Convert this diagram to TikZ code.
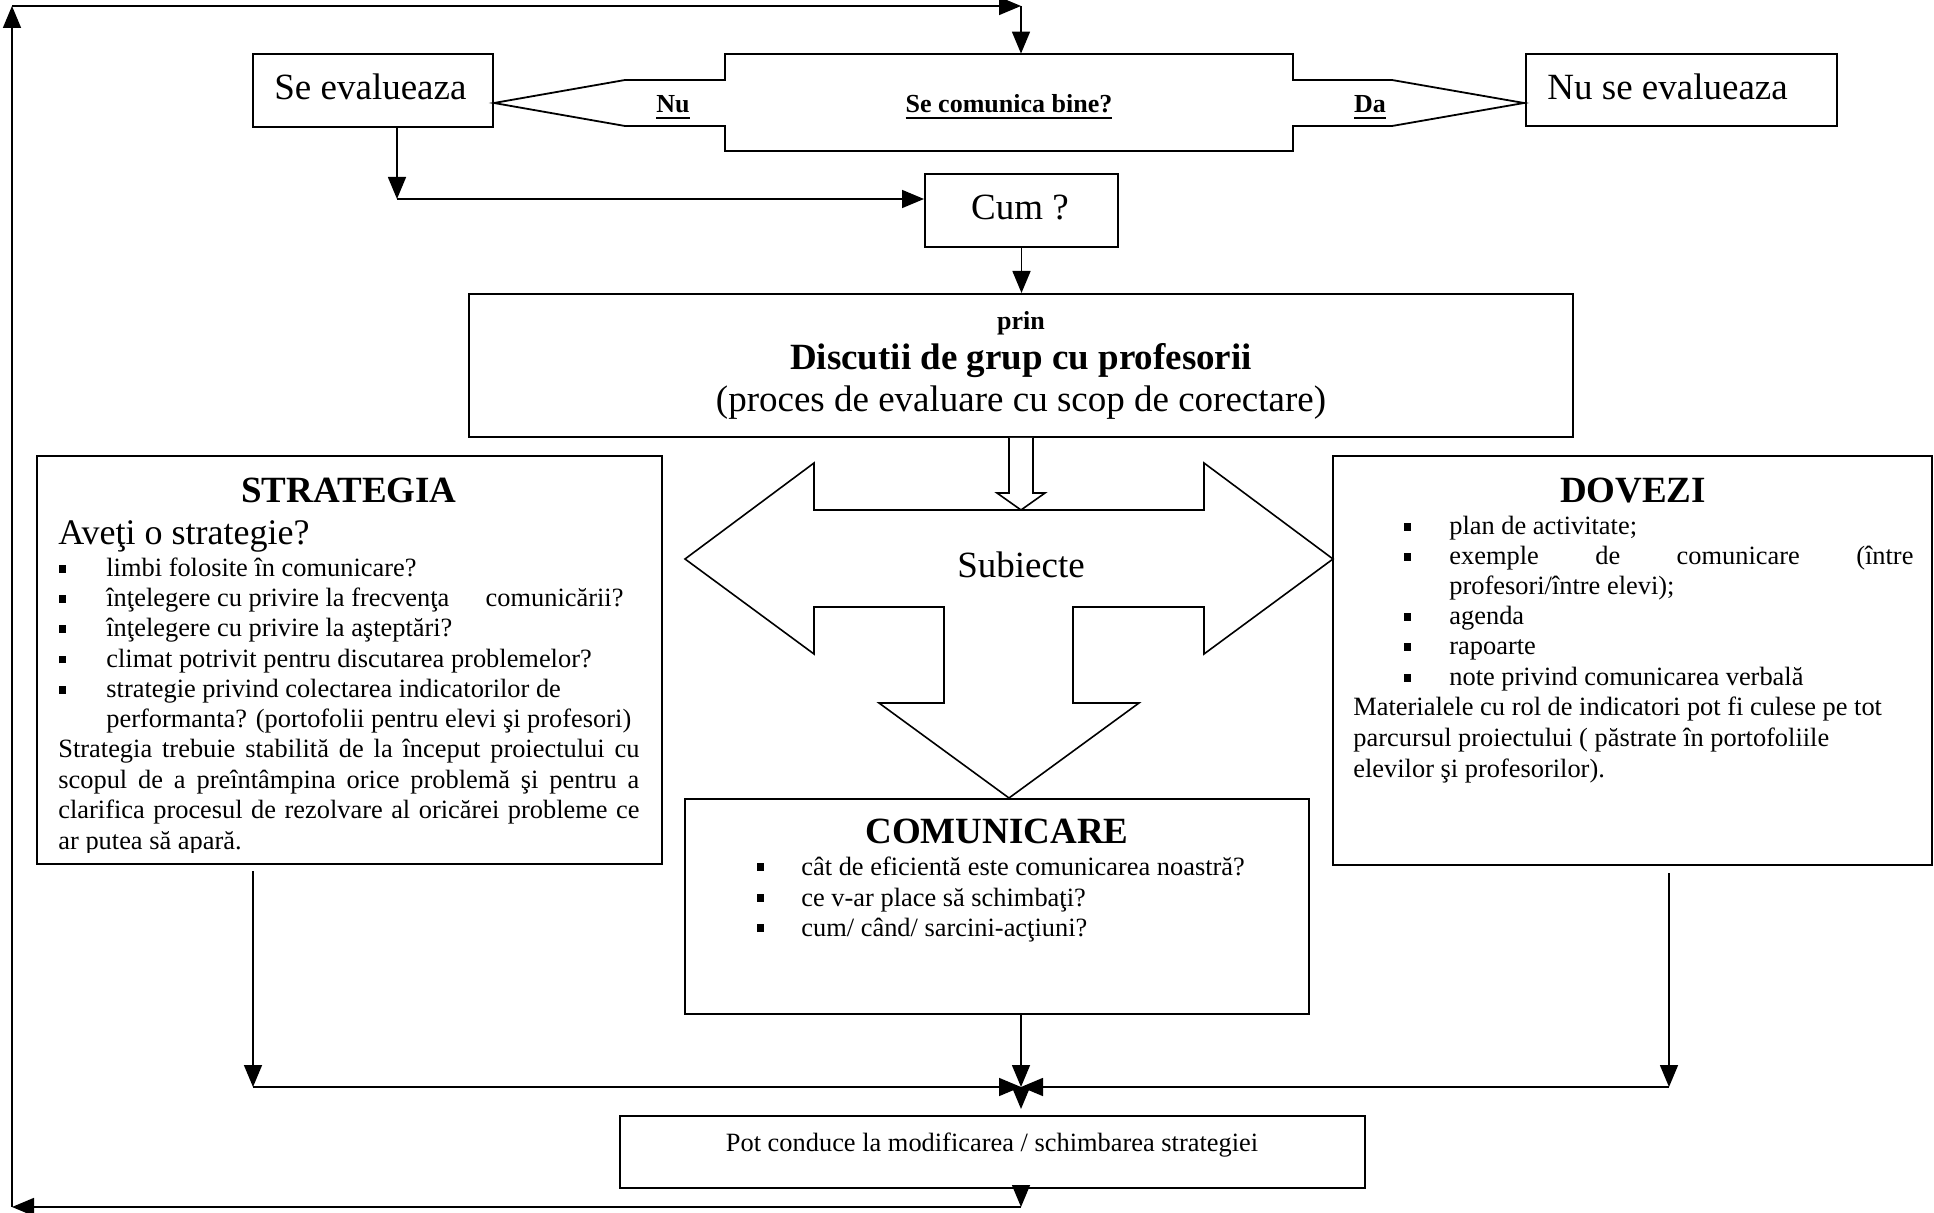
\documentclass[tikz,border=0pt]{standalone}
\usepackage{fontspec}
\setmainfont{Liberation Serif}
\usetikzlibrary{arrows.meta}
\newcommand\fbig{\fontsize{18.5pt}{22pt}\selectfont}
\newcommand\fmid{\fontsize{13.2pt}{15pt}\selectfont}
\newcommand\fav{\fontsize{18pt}{21pt}\selectfont}
\newcommand\flab{\fontsize{13pt}{15pt}\selectfont\bfseries}
\newcommand\sqbul{\rule[2pt]{3.5pt}{3.8pt}}
\newcommand\ulbox[1]{\setbox0\hbox{#1}\rlap{\rule[-3.2pt]{\wd0}{1pt}}\box0}
\newcommand\bitem[5]{%
  \node[txt,anchor=base west] (#1) at (#3,#4) {#5};
  \node[txt,anchor=base west] (#1b) at (#2,#4) {\sqbul};}
\begin{document}
\begin{tikzpicture}[x=0.5pt,y=-0.5pt,
  box/.style={draw, line width=1pt, inner sep=0pt, rectangle},
  txt/.style={inner sep=0pt, font=\fmid},
  arr/.style={line width=0.8pt, -{Triangle[length=11pt,width=9pt]}},
  shp/.style={line width=0.9pt, fill=white}]
\useasboundingbox (0,0) rectangle (1934,1213);

% boxes
\node[box, minimum width=120pt, minimum height=36.5pt] (sev) at (373,90.5) {};
\node[box, minimum width=155.5pt, minimum height=36pt] (nsev) at (1681.5,90) {};
\node[box, minimum width=96.5pt, minimum height=36.5pt] (cum) at (1021.5,210.5) {};
\node[box, minimum width=552pt, minimum height=71.5pt] (disc) at (1021,365.5) {};
\node[box, minimum width=312.5pt, minimum height=204pt] (strat) at (349.5,660) {};
\node[box, minimum width=299.5pt, minimum height=204.5pt] (dov) at (1632.5,660.5) {};
\node[box, minimum width=312pt, minimum height=107.5pt] (com) at (997,906.5) {};
\node[box, minimum width=372.5pt, minimum height=36pt] (pot) at (992.5,1152) {};

% decision block with two block arrows
\draw[shp] (725,54) -- (1293,54) -- (1293,80) -- (1392,80) -- (1524,103) -- (1392,126)
  -- (1293,126) -- (1293,151) -- (725,151) -- (725,126) -- (625,126) -- (494,103)
  -- (625,80) -- (725,80) -- cycle;
\node[inner sep=0pt, minimum width=284pt, minimum height=48.5pt] (dec) at (1009,102.5) {};
\node[txt, font=\flab, anchor=base] (decq) at (1009,113) {\ulbox{Se comunica bine?}};
\node[txt, font=\flab, anchor=base] (nu) at (673,113) {\ulbox{Nu}};
\node[txt, font=\flab, anchor=base] (da) at (1370,113) {\ulbox{Da}};

% Subiecte block arrow and hollow arrow
\draw[shp, line width=0.8pt] (814,510) -- (814,463) -- (685,559) -- (814,654) -- (814,607)
  -- (944,607) -- (944,703) -- (879,703) -- (1009,798) -- (1139,703) -- (1073,703)
  -- (1073,607) -- (1204,607) -- (1204,654) -- (1333,559) -- (1204,463) -- (1204,510) -- cycle;
\draw[shp, line width=0.8pt] (1009,438) -- (1009,493) -- (997,493) -- (1021,510) -- (1045,493)
  -- (1033,493) -- (1033,438);
\node[txt, font=\fbig, anchor=base] (subj) at (1021,578) {Subiecte};

% texts of top boxes
\node[txt, font=\fbig, anchor=base west] (tsev) at (274,100) {Se evalueaza};
\node[txt, font=\fbig, anchor=base west] (tnsev) at (1547,100) {Nu se evalueaza};
\node[txt, font=\fbig, anchor=base] (tcum) at (1020,220) {Cum ?};
\node[txt, font=\flab, anchor=base] (tprin) at (1021,330) {prin};
\node[txt, font=\fbig\bfseries, anchor=base] (tdisc) at (1021,370) {Discutii de grup cu profesorii};
\node[txt, font=\fbig, anchor=base] (tproc) at (1021,412) {(proces de evaluare cu scop de corectare)};

% STRATEGIA
\node[txt, font=\fbig\bfseries, anchor=base] (tstrat) at (349,503) {STRATEGIA};
\node[txt, font=\fav, anchor=base west] (tave) at (58,545) {Aveţi o strategie?};
\bitem{s1}{59}{106}{577}{limbi folosite în comunicare?}
\bitem{s2}{59}{106}{607}{\makebox[258.5pt][l]{înţelegere cu privire la frecvenţa\hfill comunicării?}}
\bitem{s3}{59}{106}{637}{înţelegere cu privire la aşteptări?}
\bitem{s4}{59}{106}{667.5}{climat potrivit pentru discutarea problemelor?}
\bitem{s5}{59}{106}{698}{strategie privind colectarea indicatorilor de}
\node[txt, anchor=base west] (s6) at (106,728) {performanta? (portofolii pentru elevi şi profesori)};
\node[txt, anchor=base west] (p1) at (58,758) {\makebox[290.5pt][s]{Strategia trebuie stabilită de la început proiectului cu}};
\node[txt, anchor=base west] (p2) at (58,788.5) {\makebox[290.5pt][s]{scopul de a preîntâmpina orice problemă şi pentru a}};
\node[txt, anchor=base west] (p3) at (58,819) {\makebox[290.5pt][s]{clarifica procesul de rezolvare al oricărei probleme ce}};
\begin{scope}
\clip (37,456) rectangle (662,852);
\node[txt, anchor=base west] (p4) at (58,849) {ar putea să apară.};
\end{scope}

% DOVEZI
\node[txt, font=\fbig\bfseries, anchor=base] (tdov) at (1633,503) {DOVEZI};
\bitem{d1}{1404}{1449}{535}{plan de activitate;}
\bitem{d2}{1404}{1449}{565}{\makebox[232pt][s]{exemple de comunicare (între}}
\node[txt, anchor=base west] (d3) at (1449,595) {profesori/între elevi);};
\bitem{d4}{1404}{1449}{625}{agenda}
\bitem{d5}{1404}{1449}{655}{rapoarte}
\bitem{d6}{1404}{1449}{686}{note privind comunicarea verbală}
\node[txt, anchor=base west] (d7) at (1353,716) {Materialele cu rol de indicatori pot fi culese pe tot};
\node[txt, anchor=base west] (d8) at (1353,747) {parcursul proiectului ( păstrate în portofoliile};
\node[txt, anchor=base west] (d9) at (1353,777) {elevilor şi profesorilor).};

% COMUNICARE
\node[txt, font=\fbig\bfseries, anchor=base] (tcom) at (997,843) {COMUNICARE};
\bitem{k1}{757}{801}{875}{cât de eficientă este comunicarea noastră?}
\bitem{k2}{757}{801}{906}{ce v-ar place să schimbaţi?}
\bitem{k3}{757}{801}{936}{cum/ când/ sarcini-acţiuni?}

% bottom box text
\node[txt, anchor=base] (tpot) at (992,1151) {Pot conduce la modificarea / schimbarea strategiei};

% connectors
\coordinate (c1) at (1021,1207);
\coordinate (c2) at (12,1207);
\coordinate (c3) at (12,6);
\coordinate (c4) at (1021,6);
\coordinate (c5) at (397,199);
\coordinate (c6) at (253,1087);
\coordinate (c7) at (1669,1087);
\coordinate (c8) at (1021,1087);

\draw[arr] (c1 |- pot.south) -- (c1);
\draw[arr] (c1) -- (c2);
\draw[arr] (c2) -- (c3);
\draw[arr] (c3) -- (c4);
\draw[arr] (c4) -- (c4 |- dec.north);

\draw[arr] (c5 |- sev.south) -- (c5);
\draw[arr] (c5) -- (c5 -| cum.west);
\draw[arr] (cum.south) -- (cum.south |- disc.north);

\draw[arr, shorten <=3pt] (c6 |- strat.south) -- (c6);
\draw[arr] (c6) -- (c8);
\draw[arr, shorten <=3.5pt] (c7 |- dov.south) -- (c7);
\draw[arr] (c7) -- (c8);
\draw[arr] (c8 |- com.south) -- (c8);
\draw[arr, shorten >=3pt] (c8) -- (c8 |- pot.north);
\end{tikzpicture}
\end{document}
